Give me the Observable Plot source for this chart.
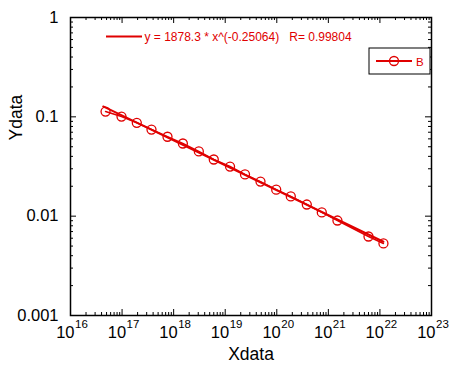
<!DOCTYPE html>
<html>
<head>
<meta charset="utf-8">
<script src="https://cdn.jsdelivr.net/npm/d3@7"></script>
<script src="https://cdn.jsdelivr.net/npm/@observablehq/plot@0.6"></script>
<style>
  html, body { margin: 0; padding: 0; background: white; }
</style>
</head>
<body>
<div id="chart"></div>
<script>
// Data
const xData = [4.78e16, 9.75e16, 1.93e17, 3.72e17, 7.6e17, 1.51e18, 3.08e18, 6.0e18, 1.24e19, 2.42e19, 4.83e19, 9.75e19, 1.87e20, 3.82e20, 7.46e20, 1.50e21, 6.0e21, 1.17e22];
const yData = [0.113, 0.1007, 0.0871, 0.0745, 0.0630, 0.0539, 0.0448, 0.0372, 0.0316, 0.0263, 0.0223, 0.0185, 0.0158, 0.0131, 0.0109, 0.00904, 0.00624, 0.00531];
const seriesName = "B";

// Fit shown in the chart
const fitA = 1878.3;
const fitB = -0.25064;
const fitLabel = "y = 1878.3 * x^(-0.25064)   R= 0.99804";

// Axis ticks
const xExponents = [16, 17, 18, 19, 20, 21, 22, 23];
const yTicks = [1, 0.1, 0.01, 0.001];
const yTickLabels = ["1", "0.1", "0.01", "0.001"];
const xTitle = "Xdata";
const yTitle = "Ydata";

const red = "#e00000";
const W = 452, H = 368;
const mL = 70, mR = 21, mT = 17, mB = 53;
const plotW = W - mL - mR, plotH = H - mT - mB;

const data = xData.map((x, i) => ({x, y: yData[i]}));
const xMin = d3.min(xData), xMax = d3.max(xData);
const fitPts = [xMin * 0.9, xMax].map(x => ({x, y: fitA * Math.pow(x, fitB)}));

const xMajor = xExponents.map(e => Math.pow(10, e));
const xMinor = [];
for (let e = 16; e < 23; e++) for (let k = 2; k <= 9; k++) xMinor.push(k * Math.pow(10, e));
const yMinor = [];
for (let e = -3; e < 0; e++) for (let k = 2; k <= 9; k++) yMinor.push(k * Math.pow(10, e));

const maj = 6, min = 3;

const svg = Plot.plot({
  width: W, height: H,
  marginLeft: mL, marginRight: mR, marginTop: mT, marginBottom: mB,
  x: {type: "log", domain: [1e16, 1e23], axis: null},
  y: {type: "log", domain: [1e-3, 1], axis: null},
  style: {fontFamily: "'Liberation Sans', Arial, sans-serif", background: "white", color: "black"},
  marks: [
    // inward ticks on all four sides
    Plot.ruleX(xMajor, {x: d => d, insetTop: plotH - maj, stroke: "black"}),
    Plot.ruleX(xMajor, {x: d => d, insetBottom: plotH - maj, stroke: "black"}),
    Plot.ruleX(xMinor, {x: d => d, insetTop: plotH - min, stroke: "black"}),
    Plot.ruleX(xMinor, {x: d => d, insetBottom: plotH - min, stroke: "black"}),
    Plot.ruleY(yTicks, {y: d => d, insetRight: plotW - maj, stroke: "black"}),
    Plot.ruleY(yTicks, {y: d => d, insetLeft: plotW - maj, stroke: "black"}),
    Plot.ruleY(yMinor, {y: d => d, insetRight: plotW - min, stroke: "black"}),
    Plot.ruleY(yMinor, {y: d => d, insetLeft: plotW - min, stroke: "black"}),
    Plot.frame({stroke: "black", strokeWidth: 1.5}),
    // x tick labels 10^e
    Plot.text(xExponents, {x: e => Math.pow(10, e), text: () => "10", frameAnchor: "bottom",
      textAnchor: "end", lineAnchor: "bottom", dx: 4, dy: 22, fontSize: 16.5, fill: "black"}),
    Plot.text(xExponents, {x: e => Math.pow(10, e), text: e => String(e), frameAnchor: "bottom",
      textAnchor: "start", lineAnchor: "bottom", dx: 4.5, dy: 12.5, fontSize: 11.5, fill: "black"}),
    // y tick labels
    Plot.text(yTicks, {y: d => d, text: yTickLabels, frameAnchor: "left", textAnchor: "end",
      dx: -12, fontSize: 16.5, fill: "black"}),
    // axis titles
    Plot.text([xTitle], {frameAnchor: "bottom", lineAnchor: "bottom", dy: 44, fontSize: 17.5, fill: "black"}),
    Plot.text([yTitle], {frameAnchor: "left", rotate: -90, dx: -54, dy: -26, fontSize: 17.5, fill: "black"}),
    // fit line and data
    Plot.line(fitPts, {x: "x", y: "y", stroke: red, strokeWidth: 2}),
    Plot.line(data, {x: "x", y: "y", stroke: red, strokeWidth: 1.5}),
    Plot.dot(data, {x: "x", y: "y", r: 4.5, stroke: red, strokeWidth: 1.3, fill: "none"}),
    // fit annotation
    Plot.ruleY([1], {y: d => d, insetLeft: 36, insetRight: 289, dy: 19, stroke: red, strokeWidth: 2}),
    Plot.text([fitLabel], {frameAnchor: "top-left", textAnchor: "start", lineAnchor: "bottom",
      dx: 74, dy: 23, fontSize: 12, fill: red})
  ]
});

// legend box
const g = d3.select(svg).append("g");
g.append("rect").attr("x", 369).attr("y", 48).attr("width", 61).attr("height", 26)
  .attr("fill", "white").attr("stroke", "black").attr("stroke-width", 1);
g.append("line").attr("x1", 376).attr("x2", 412).attr("y1", 61).attr("y2", 61)
  .attr("stroke", red).attr("stroke-width", 2);
g.append("circle").attr("cx", 394).attr("cy", 61).attr("r", 4.5)
  .attr("fill", "none").attr("stroke", red).attr("stroke-width", 1.3);
g.append("text").attr("x", 416).attr("y", 66).attr("font-size", 11.5).attr("fill", red)
  .attr("text-anchor", "start")
  .attr("font-family", "'Liberation Sans', Arial, sans-serif").text(seriesName);

document.getElementById("chart").appendChild(svg);
</script>
</body>
</html>
